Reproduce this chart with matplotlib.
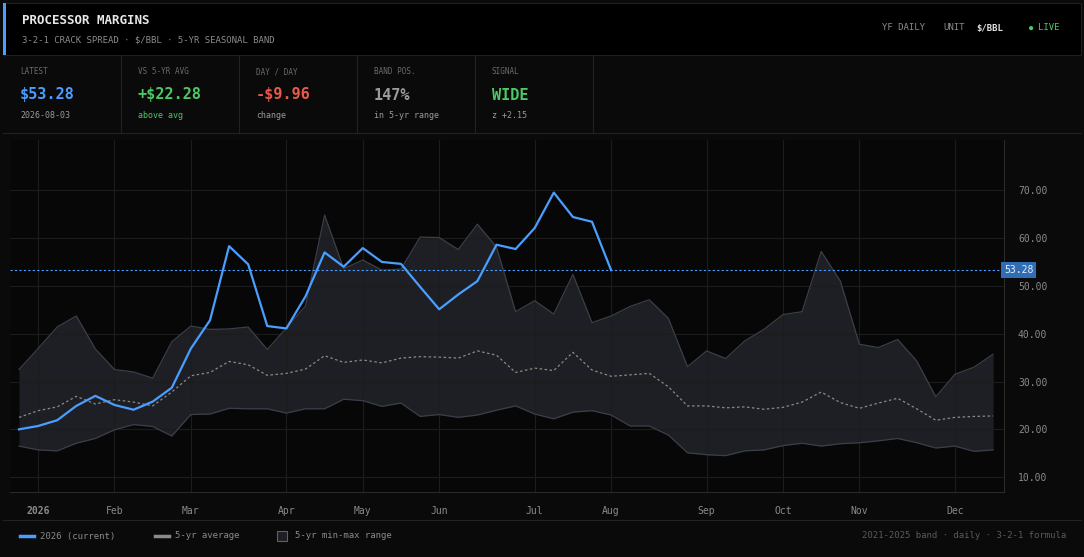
import numpy as np
import matplotlib.pyplot as plt
from matplotlib.patches import Rectangle

plt.rcParams["font.family"] = ["DejaVu Sans Mono"]

# weekly values, 52 weeks
cur = [20.0, 20.7, 21.9, 24.9, 27.0, 25.1, 24.1, 25.8, 28.7, 36.9, 42.8, 58.3, 54.5, 41.6, 41.1, 47.8,
       57.0, 54.0, 57.9, 55.0, 54.6, 49.8, 45.1, 48.2, 51.0, 58.6, 57.7, 62.1, 69.5, 64.4, 63.4, 53.28]
upper = [32.5, 36.9, 41.4, 43.7, 36.8, 32.5, 32.0, 30.7, 38.3, 41.6, 40.9, 41.0, 41.4, 36.7, 41.2, 45.8,
         64.8, 53.6, 55.4, 53.3, 53.5, 60.2, 60.1, 57.6, 62.9, 58.1, 44.6, 46.9, 44.1, 52.4, 42.3, 43.7,
         45.7, 47.1, 43.2, 33.1, 36.4, 34.8, 38.5, 40.9, 44.0, 44.6, 57.2, 51.0, 37.8, 37.1, 38.8, 34.3,
         26.8, 31.5, 33.0, 35.7]
lower = [16.5, 15.7, 15.5, 17.1, 18.1, 19.9, 21.0, 20.6, 18.6, 23.1, 23.2, 24.4, 24.3, 24.3, 23.4, 24.3,
         24.3, 26.3, 26.0, 24.8, 25.5, 22.7, 23.1, 22.5, 23.0, 24.0, 24.9, 23.2, 22.2, 23.6, 23.9, 23.0,
         20.7, 20.7, 18.8, 15.1, 14.7, 14.5, 15.5, 15.7, 16.6, 17.1, 16.5, 17.0, 17.2, 17.6, 18.1, 17.2,
         16.1, 16.5, 15.4, 15.7]
avg = [22.5, 23.9, 24.7, 26.9, 25.3, 26.2, 25.7, 24.9, 27.8, 31.2, 31.9, 34.2, 33.5, 31.3, 31.7, 32.6,
       35.4, 34.0, 34.5, 33.9, 34.9, 35.2, 35.1, 34.9, 36.4, 35.5, 31.9, 32.8, 32.3, 36.1, 32.4, 31.1,
       31.4, 31.7, 28.9, 24.9, 24.9, 24.5, 24.7, 24.2, 24.6, 25.7, 27.8, 25.6, 24.4, 25.5, 26.5, 24.3,
       21.9, 22.5, 22.7, 22.8]
month_pos = [1, 5, 9, 14, 18, 22, 27, 31, 36, 40, 44, 49]
month_lab = ["2026", "Feb", "Mar", "Apr", "May", "Jun", "Jul", "Aug", "Sep", "Oct", "Nov", "Dec"]
latest = 53.28

W, H = 1084, 557
fig = plt.figure(figsize=(W / 100, H / 100), dpi=100, facecolor="#0a0a0a")

def fx(x): return x / W
def fy(y): return 1 - y / H

# header
fig.patches.append(Rectangle((fx(3), fy(55)), fx(1078), 52 / H, transform=fig.transFigure,
                             facecolor="#000000", edgecolor="#1e1e1e", lw=0.8))
fig.patches.append(Rectangle((fx(3), fy(55)), fx(3), 52 / H, transform=fig.transFigure,
                             facecolor="#4a9eff", edgecolor="none"))
fig.text(fx(22), fy(20), "PROCESSOR MARGINS", color="#e8e8e8", fontsize=9, weight="bold", va="center")
fig.text(fx(22), fy(40), "3-2-1 CRACK SPREAD · $/BBL · 5-YR SEASONAL BAND", color="#8a8a8a",
         fontsize=6.5, va="center")
fig.text(fx(925), fy(28), "YF DAILY", color="#8a8a8a", fontsize=6.5, va="center", ha="right")
fig.text(fx(943), fy(28), "UNIT", color="#8a8a8a", fontsize=6.5, va="center")
fig.text(fx(976), fy(28), "$/BBL", color="#e0e0e0", fontsize=6.5, va="center", weight="bold")
fig.text(fx(1031), fy(28), "●", color="#4cc864", fontsize=5, va="center", ha="center")
fig.text(fx(1038), fy(28), "LIVE", color="#4cc864", fontsize=6.5, va="center")

# stats row
stats = [("LATEST", "$53.28", "#4a9eff", "2026-08-03", "#9a9a9a"),
         ("VS 5-YR AVG", "+$22.28", "#4cc864", "above avg", "#4cc864"),
         ("DAY / DAY", "-$9.96", "#e85a4a", "change", "#9a9a9a"),
         ("BAND POS.", "147%", "#9a9a9a", "in 5-yr range", "#9a9a9a"),
         ("SIGNAL", "WIDE", "#4cc864", "z +2.15", "#9a9a9a")]
for i, (lab, val, vc, sub, sc) in enumerate(stats):
    x0 = 20 + i * 118
    fig.text(fx(x0), fy(72), lab, color="#6a6a6a", fontsize=5.5, va="center")
    fig.text(fx(x0), fy(95), val, color=vc, fontsize=11, weight="bold", va="center")
    fig.text(fx(x0), fy(116), sub, color=sc, fontsize=6, va="center")
    fig.lines.append(plt.Line2D([fx(x0 + 101)] * 2, [fy(56), fy(133)], transform=fig.transFigure,
                                color="#222222", lw=0.8))
fig.lines.append(plt.Line2D([fx(3), fx(1081)], [fy(133)] * 2, transform=fig.transFigure, color="#222222", lw=0.8))

# chart
ax = fig.add_axes([fx(10), fy(492), fx(994), 352 / H], facecolor="#070707")
wk = np.arange(len(upper))
ax.fill_between(wk, lower, upper, color="#1d1f24", lw=0)
ax.plot(wk, upper, color="#3a3f48", lw=0.9)
ax.plot(wk, lower, color="#3a3f48", lw=0.9)
ax.plot(wk, avg, color="#8a8a8a", lw=0.9, ls=(0, (2, 2)))
ax.plot(np.arange(len(cur)), cur, color="#4a9eff", lw=1.6)
ax.axhline(latest, color="#4a9eff", lw=0.8, ls=(0, (2, 2)))
ax.set_xlim(-0.47, 51.57)
ax.set_ylim(6.9, 80.5)
ax.set_xticks(month_pos)
ax.set_xticklabels(month_lab)
ax.get_xticklabels()[0].set_weight("bold")
ax.get_xticklabels()[0].set_color("#bbbbbb")
ax.set_yticks(np.arange(10, 80, 10))
ax.set_yticklabels([f"{v:.2f}" for v in np.arange(10, 80, 10)])
ax.yaxis.tick_right()
ax.tick_params(colors="#8a8a8a", labelsize=7, length=0, pad=10)
ax.grid(True, color="#1c1c1c", lw=0.8)
for s in ax.spines.values():
    s.set_visible(False)
ax.spines["right"].set_visible(True)
ax.spines["right"].set_color("#2a2a2a")
ax.spines["bottom"].set_visible(True)
ax.spines["bottom"].set_color("#2a2a2a")
ax.text(1.0, latest, f"{latest:.2f}", transform=ax.get_yaxis_transform(), color="#e8f0ff",
        fontsize=7, va="center", ha="left",
        bbox=dict(boxstyle="square,pad=0.3", facecolor="#2f6db5", edgecolor="none"))

# footer legend
fig.lines.append(plt.Line2D([fx(3), fx(1081)], [fy(520)] * 2, transform=fig.transFigure, color="#222222", lw=0.8))
fig.lines.append(plt.Line2D([fx(20), fx(34)], [fy(536)] * 2, transform=fig.transFigure, color="#4a9eff", lw=2.5))
fig.text(fx(40), fy(536), "2026 (current)", color="#8a8a8a", fontsize=6.5, va="center")
fig.lines.append(plt.Line2D([fx(155), fx(169)], [fy(536)] * 2, transform=fig.transFigure, color="#8a8a8a", lw=2.5))
fig.text(fx(175), fy(536), "5-yr average", color="#8a8a8a", fontsize=6.5, va="center")
fig.patches.append(Rectangle((fx(277), fy(541)), fx(10), 10 / H, transform=fig.transFigure,
                             facecolor="#1d1f24", edgecolor="#5a6270", lw=0.8))
fig.text(fx(295), fy(536), "5-yr min-max range", color="#8a8a8a", fontsize=6.5, va="center")
fig.text(fx(1066), fy(536), "2021-2025 band · daily · 3-2-1 formula", color="#5a5a5a", fontsize=6.5,
         va="center", ha="right")

fig.savefig("out.png", dpi=100, facecolor=fig.get_facecolor())
